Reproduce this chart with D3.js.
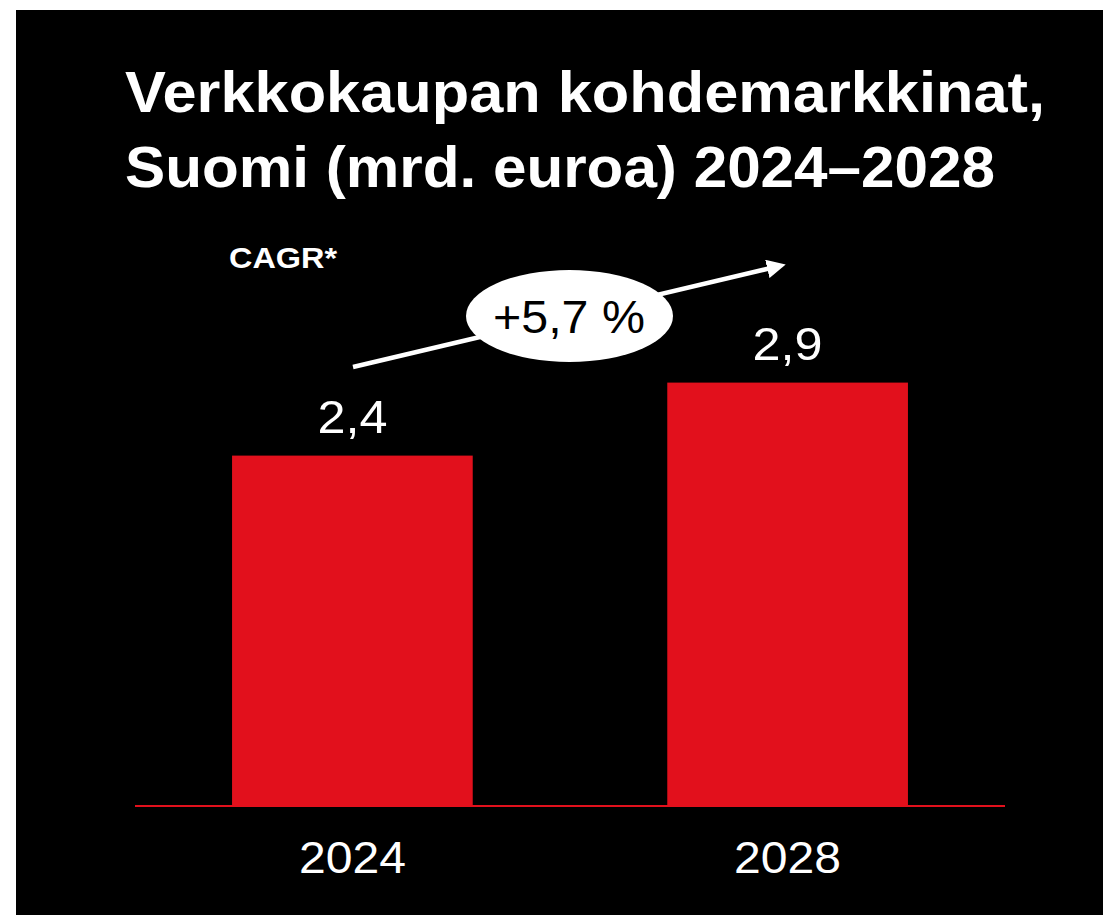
<!DOCTYPE html>
<html>
<head>
<meta charset="utf-8">
<script src="https://cdn.jsdelivr.net/npm/d3@7"></script>
<style>
  html, body { margin: 0; padding: 0; background: #fff; }
  svg { display: block; }
  text { font-family: "Liberation Sans", Arial, Helvetica, sans-serif; }
</style>
</head>
<body>
<script>
const years = ['2024', '2028'];
const values = [2.4, 2.9];
const valueLabels = ['2,4', '2,9'];
const titleLines = ['Verkkokaupan kohdemarkkinat,', 'Suomi (mrd. euroa) 2024–2028'];
const cagrLabel = 'CAGR*';
const cagrValue = '+5,7 %';

const width = 1103;
const height = 915;
const baseline = 806;
const titleWidths = [920, 870];

const svg = d3.select('body').append('svg')
  .attr('width', width)
  .attr('height', height);

// black panel
svg.append('rect')
  .attr('x', 16)
  .attr('y', 10)
  .attr('width', width - 16)
  .attr('height', height - 10)
  .attr('fill', '#000');

// title, glyphs stretched a bit to get the wider face of the original
svg.append('g')
  .attr('class', 'title')
  .selectAll('text')
  .data(titleLines)
  .enter()
  .append('text')
  .attr('x', 125)
  .attr('y', (d, i) => 112 + i * 75)
  .attr('fill', '#fff')
  .attr('font-size', 57)
  .attr('font-weight', 'bold')
  .attr('textLength', (d, i) => titleWidths[i])
  .attr('lengthAdjust', 'spacingAndGlyphs')
  .text(d => d);

const x = d3.scaleBand()
  .domain(years)
  .range([135, 1005])
  .paddingInner(0.447)
  .paddingOuter(0.223);

const y = d3.scaleLinear()
  .domain([0, 3])
  .range([baseline, baseline - 146 * 3]);

const bars = svg.append('g').attr('class', 'bars');

bars.selectAll('rect')
  .data(values)
  .enter()
  .append('rect')
  .attr('x', (d, i) => x(years[i]))
  .attr('y', d => y(d))
  .attr('width', x.bandwidth())
  .attr('height', d => y(0) - y(d))
  .attr('fill', '#e2101c');

bars.selectAll('text.value')
  .data(values)
  .enter()
  .append('text')
  .attr('class', 'value')
  .attr('x', (d, i) => x(years[i]) + x.bandwidth() / 2)
  .attr('y', d => y(d) - 23)
  .attr('text-anchor', 'middle')
  .attr('fill', '#fff')
  .attr('font-size', 46)
  .attr('textLength', 70)
  .attr('lengthAdjust', 'spacingAndGlyphs')
  .text((d, i) => valueLabels[i]);

// baseline
svg.append('line')
  .attr('x1', 135)
  .attr('x2', 1005)
  .attr('y1', baseline)
  .attr('y2', baseline)
  .attr('stroke', '#e2101c')
  .attr('stroke-width', 2);

// x axis labels
svg.append('g')
  .attr('class', 'x axis')
  .selectAll('text')
  .data(years)
  .enter()
  .append('text')
  .attr('x', d => x(d) + x.bandwidth() / 2)
  .attr('y', 873)
  .attr('text-anchor', 'middle')
  .attr('fill', '#fff')
  .attr('font-size', 45)
  .attr('textLength', 107)
  .attr('lengthAdjust', 'spacingAndGlyphs')
  .text(d => d);

// CAGR annotation
svg.append('text')
  .attr('x', 229)
  .attr('y', 268)
  .attr('fill', '#fff')
  .attr('font-size', 30)
  .attr('font-weight', 'bold')
  .attr('textLength', 108)
  .attr('lengthAdjust', 'spacingAndGlyphs')
  .text(cagrLabel);

const defs = svg.append('defs');
defs.append('marker')
  .attr('id', 'arrow')
  .attr('viewBox', '0 0 10 10')
  .attr('refX', 2)
  .attr('refY', 5)
  .attr('markerWidth', 4.2)
  .attr('markerHeight', 4.2)
  .attr('orient', 'auto')
  .append('path')
  .attr('d', 'M0,0 L10,5 L0,10 Z')
  .attr('fill', '#fff');

svg.append('line')
  .attr('x1', 353)
  .attr('y1', 367)
  .attr('x2', 771)
  .attr('y2', 268)
  .attr('stroke', '#fff')
  .attr('stroke-width', 4.5)
  .attr('marker-end', 'url(#arrow)');

svg.append('ellipse')
  .attr('cx', 569.5)
  .attr('cy', 316)
  .attr('rx', 103.5)
  .attr('ry', 46)
  .attr('fill', '#fff');

svg.append('text')
  .attr('x', 569)
  .attr('y', 333)
  .attr('text-anchor', 'middle')
  .attr('fill', '#000')
  .attr('font-size', 46)
  .attr('textLength', 152)
  .attr('lengthAdjust', 'spacingAndGlyphs')
  .text(cagrValue);
</script>
</body>
</html>
